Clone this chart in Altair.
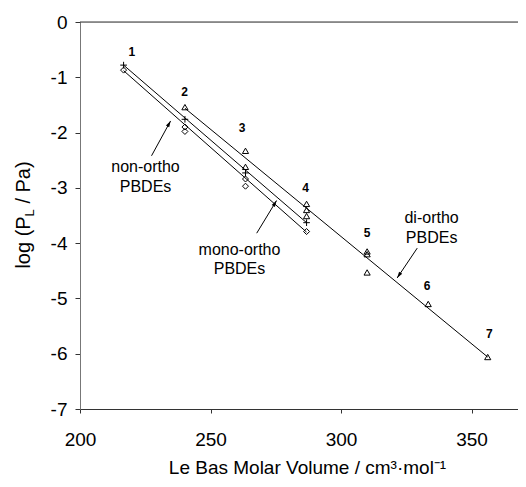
import math
import altair as alt
import pandas as pd

# ---- data ----
di_x = [240.2, 263.4, 263.4, 286.8, 286.8, 286.8, 310.0, 310.0, 310.0, 333.4, 356.2]
di_y = [-1.54, -2.33, -2.62, -3.29, -3.40, -3.51, -4.15, -4.20, -4.53, -5.10, -6.06]
mono_x = [216.7, 240.2, 263.4, 286.8]
mono_y = [-0.78, -1.76, -2.73, -3.63]
non_x = [216.7, 240.2, 240.2, 263.4, 263.4, 286.8]
non_y = [-0.87, -1.90, -1.98, -2.84, -2.97, -3.79]

fit_group = ["di", "di", "mono", "mono", "non", "non"]
fit_x = [240.2, 356.2, 216.7, 286.8, 216.7, 286.8]
fit_y = [-1.56, -6.06, -0.78, -3.63, -0.88, -3.80]

num_text = ["1", "2", "3", "4", "5", "6", "7"]
num_x = [219.9, 240.1, 262.1, 286.4, 310.0, 333.0, 356.8]
num_y = [-0.54, -1.26, -1.91, -3.01, -3.81, -4.77, -5.64]

ann_text = ["non-ortho", "PBDEs", "mono-ortho", "PBDEs", "di-ortho", "PBDEs"]
ann_x = [225.1, 225.1, 261.1, 261.1, 334.7, 334.7]
ann_y = [-2.62, -2.99, -4.12, -4.47, -3.55, -3.91]

arr_x0 = [227.4, 267.7, 329.2]
arr_y0 = [-2.42, -3.82, -4.09]
arr_x1 = [234.7, 275.3, 321.5]
arr_y1 = [-1.79, -3.23, -4.63]

x_ticks = [200, 250, 300, 350]
y_ticks = [0, -1, -2, -3, -4, -5, -6, -7]

XMIN, XMAX = 200, 367.8
YMIN, YMAX = -7, 0
W, H = 438, 387
FONT = "Liberation Sans"

sx = W / (XMAX - XMIN)
sy = H / (YMAX - YMIN)
arr_angle = []
for a, b, c, d in zip(arr_x0, arr_y0, arr_x1, arr_y1):
    dx = (c - a) * sx
    dy = -(d - b) * sy
    arr_angle.append(math.degrees(math.atan2(dx, -dy)) % 360)

di = pd.DataFrame({"x": di_x, "y": di_y})
mono = pd.DataFrame({"x": mono_x, "y": mono_y})
non = pd.DataFrame({"x": non_x, "y": non_y})
fits = pd.DataFrame({"g": fit_group, "x": fit_x, "y": fit_y})
nums = pd.DataFrame({"t": num_text, "x": num_x, "y": num_y})
anns = pd.DataFrame({"t": ann_text, "x": ann_x, "y": ann_y})
arrows = pd.DataFrame({"x": arr_x0, "y": arr_y0, "x2": arr_x1, "y2": arr_y1, "a": arr_angle})

xs = alt.Scale(domain=[XMIN, XMAX], nice=False, zero=False)
ys = alt.Scale(domain=[YMIN, YMAX], nice=False, zero=False)

x_axis = alt.Axis(
    values=x_ticks, title="Le Bas Molar Volume / cm³·mol⁻¹", grid=False, labelFlush=False,
    domainColor="#333", tickColor="#333", tickSize=4, labelPadding=17,
    labelFont=FONT, labelFontSize=19, labelColor="black",
    titleFont=FONT, titleFontSize=19, titleFontWeight="normal", titleColor="black",
    titleX=227, titleY=64, titleBaseline="alphabetic", titleAnchor="middle", titleAlign="center",
)
y_axis = alt.Axis(
    values=y_ticks, title=None, grid=False, labelFlush=False,
    labelExpr="'' + datum.value",
    domainColor="#777", tickColor="#333", tickSize=5, labelPadding=8,
    labelFont=FONT, labelFontSize=19, labelColor="black",
)

X = alt.X("x:Q", scale=xs, axis=x_axis)
Y = alt.Y("y:Q", scale=ys, axis=y_axis)
Xn = alt.X("x:Q", scale=xs)
Yn = alt.Y("y:Q", scale=ys)

top_rule = alt.Chart(pd.DataFrame({"y": [0]})).mark_rule(color="#333", strokeWidth=1).encode(y=alt.Y("y:Q", scale=ys))

lines = alt.Chart(fits).mark_line(color="black", strokeWidth=1).encode(x=X, y=Y, detail="g:N")

tri = alt.Chart(di).mark_point(shape="triangle-up", size=38, filled=False, color="black", strokeWidth=1, opacity=1).encode(x=Xn, y=Yn)
plus = alt.Chart(mono).mark_point(shape="M-1,0L1,0M0,-1L0,1", size=44, filled=False, color="black", strokeWidth=1, opacity=1).encode(x=Xn, y=Yn)
dia = alt.Chart(non).mark_point(shape="diamond", size=36, filled=False, color="black", strokeWidth=1, opacity=1).encode(x=Xn, y=Yn)

num_lbl = alt.Chart(nums).mark_text(font=FONT, fontSize=12, fontWeight="bold", color="black", align="center", baseline="middle").encode(x=Xn, y=Yn, text="t:N")
ann_lbl = alt.Chart(anns).mark_text(font=FONT, fontSize=16, color="black", align="center", baseline="middle").encode(x=Xn, y=Yn, text="t:N")

arr_line = alt.Chart(arrows).mark_rule(color="black", strokeWidth=1).encode(
    x=Xn, y=Yn, x2="x2:Q", y2="y2:Q")
arr_head = alt.Chart(arrows).mark_point(shape="M0,0L0.45,1.5L-0.45,1.5Z", size=70, filled=True, color="black", opacity=1).encode(
    x=alt.X("x2:Q", scale=xs), y=alt.Y("y2:Q", scale=ys), angle=alt.Angle("a:Q", scale=None))

# y-axis title with subscript L, built from text pieces (pixel positions relative to plot area)
TX = 29 - 79.5
title_parts = [
    ("log (P", TX, 246.6, 20),
    ("L", TX + 4, 194.4, 13),
    ("/ Pa)", TX, 181.6, 20),
]
ytitle_layers = []
for t, px, py, fs in title_parts:
    ytitle_layers.append(
        alt.Chart(pd.DataFrame({"t": [t]})).mark_text(
            font=FONT, fontSize=fs, color="black", angle=270, align="left", baseline="alphabetic"
        ).encode(x=alt.value(px), y=alt.value(py), text="t:N")
    )

chart = alt.layer(
    lines, top_rule, tri, plus, dia, num_lbl, ann_lbl, arr_line, arr_head, *ytitle_layers
).properties(
    width=W, height=H,
    autosize=alt.AutoSizeParams(type="none"),
    padding={"left": 72, "top": 14, "right": 0, "bottom": 70},
).configure_view(stroke=None).configure(background="white")

chart.save("out.html", embed_options={"renderer": "svg", "actions": False})
